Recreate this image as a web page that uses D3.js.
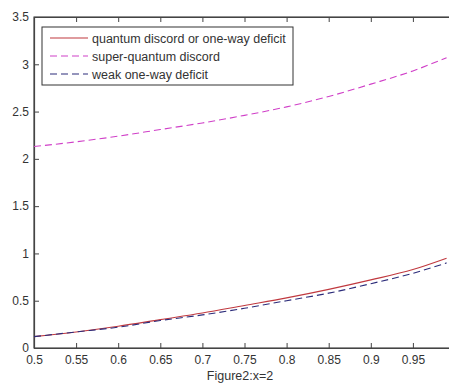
<!DOCTYPE html>
<html>
<head>
<meta charset="utf-8">
<script src="https://cdn.jsdelivr.net/npm/d3@7"></script>
<style>
  body { margin: 0; background: #fff; }
  svg { display: block; font-family: "Liberation Sans", Arial, sans-serif; }
  .axis text { font-size: 12px; fill: #333; }
  .axis path, .axis line { stroke: #444; }
</style>
</head>
<body>
<div id="chart"></div>
<script>
// data
const xVals = [0.5, 0.55, 0.6, 0.65, 0.7, 0.75, 0.8, 0.85, 0.9, 0.95, 0.99];
const discord = [0.12, 0.17, 0.23, 0.30, 0.37, 0.45, 0.53, 0.62, 0.72, 0.83, 0.95];
const superDiscord = [2.13, 2.18, 2.24, 2.31, 2.38, 2.46, 2.55, 2.66, 2.79, 2.93, 3.07];
const weakDeficit = [0.12, 0.17, 0.22, 0.29, 0.35, 0.42, 0.50, 0.58, 0.68, 0.79, 0.90];
const xTicks = [0.5, 0.55, 0.6, 0.65, 0.7, 0.75, 0.8, 0.85, 0.9, 0.95];
const yTicks = [0, 0.5, 1, 1.5, 2, 2.5, 3, 3.5];
const seriesNames = ["quantum discord or one-way deficit", "super-quantum discord", "weak one-way deficit"];

const W = 449, H = 383;
const margin = { top: 17, left: 34 };
const plotH = 348 - margin.top;
const plotW = 421; // right edge falls just outside the window

const svg = d3.select("#chart").append("svg")
    .attr("width", W)
    .attr("height", H);

const g = svg.append("g")
    .attr("transform", `translate(${margin.left},${margin.top})`);

const xScale = d3.scaleLinear().domain([0.5, 1.0]).range([0, plotW]);
const yScale = d3.scaleLinear().domain([0, 3.5]).range([plotH, 0]);

// frame
g.append("rect")
    .attr("width", plotW)
    .attr("height", plotH)
    .attr("fill", "none")
    .attr("stroke", "#222")
    .attr("stroke-width", 1);

// axes (MATLAB style, ticks pointing inward)
const fmt = d => d3.format("~g")(d);
g.append("g")
    .attr("class", "axis")
    .attr("transform", `translate(0,${plotH})`)
    .call(d3.axisBottom(xScale).tickValues(xTicks).tickFormat(fmt).tickSizeInner(-5).tickSizeOuter(0).tickPadding(7));

g.append("g")
    .attr("class", "axis")
    .call(d3.axisTop(xScale).tickValues(xTicks).tickFormat("").tickSizeInner(-5).tickSizeOuter(0));

g.append("g")
    .attr("class", "axis")
    .call(d3.axisLeft(yScale).tickValues(yTicks).tickFormat(fmt).tickSizeInner(-5).tickSizeOuter(0).tickPadding(5));

g.selectAll(".axis .domain").attr("stroke", "#333").attr("stroke-width", 1.2);

// lines
const lineData = [
    { name: seriesNames[0], values: discord, color: "#c0393f", dash: null },
    { name: seriesNames[1], values: superDiscord, color: "#d040c8", dash: "7,4" },
    { name: seriesNames[2], values: weakDeficit, color: "#2c2c7a", dash: "7,4" }
];

const line = d3.line()
    .x((d, i) => xScale(xVals[i]))
    .y(d => yScale(d))
    .curve(d3.curveMonotoneX);

g.selectAll("path.data-line")
    .data(lineData)
    .enter()
    .append("path")
    .attr("class", "data-line")
    .attr("d", d => line(d.values))
    .style("fill", "none")
    .style("stroke", d => d.color)
    .style("stroke-width", 1.1)
    .style("stroke-dasharray", d => d.dash);

// legend
const legend = g.append("g")
    .attr("transform", "translate(8,10)");

legend.append("rect")
    .attr("width", 251)
    .attr("height", 58)
    .attr("fill", "#fff")
    .attr("stroke", "#333")
    .attr("stroke-width", 1);

const items = legend.selectAll(".legend")
    .data(lineData)
    .enter()
    .append("g")
    .attr("class", "legend")
    .attr("transform", (d, i) => `translate(0, ${11 + i * 18})`);

items.append("line")
    .attr("x1", 8)
    .attr("x2", 46)
    .style("stroke", d => d.color)
    .style("stroke-width", 1.1)
    .style("stroke-dasharray", d => d.dash);

items.append("text")
    .attr("x", 50)
    .attr("y", 4.5)
    .style("font-size", "12.5px")
    .style("fill", "#333")
    .text(d => d.name);

// caption
svg.append("text")
    .attr("x", 240)
    .attr("y", 380)
    .attr("text-anchor", "middle")
    .style("font-size", "12.5px")
    .style("fill", "#333")
    .text("Figure2:x=2");
</script>
</body>
</html>
